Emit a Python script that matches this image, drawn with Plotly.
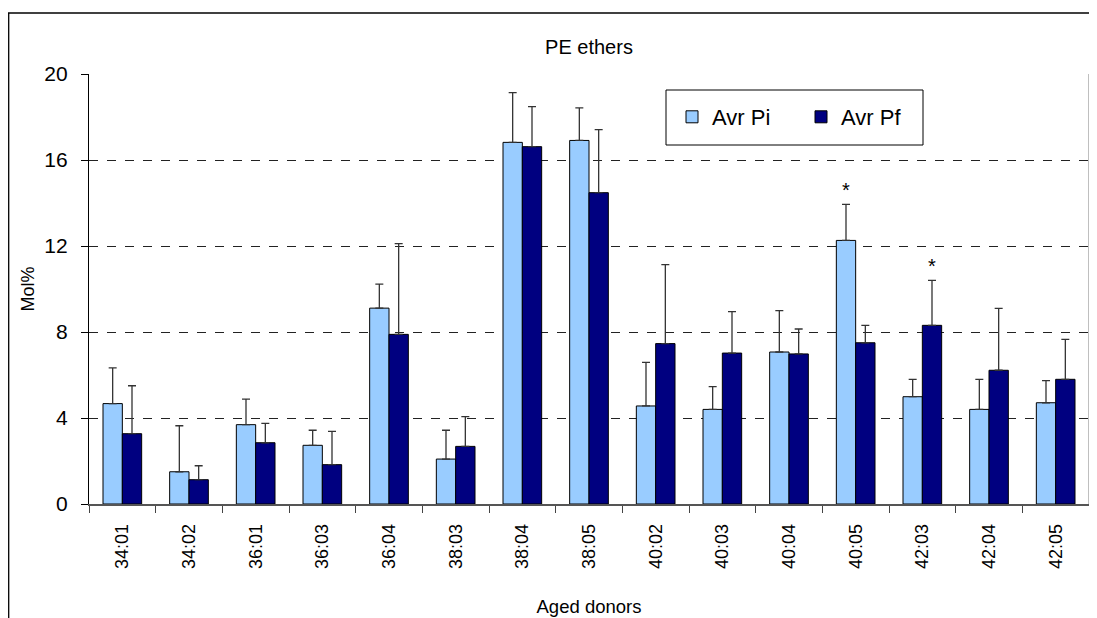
import plotly.graph_objects as go

categories = ["34:01", "34:02", "36:01", "36:03", "36:04", "38:03", "38:04", "38:05",
              "40:02", "40:03", "40:04", "40:05", "42:03", "42:04", "42:05"]
avr_pi = [4.67, 1.50, 3.69, 2.73, 9.11, 2.09, 16.82, 16.91, 4.56, 4.40, 7.07, 12.26, 4.99, 4.40, 4.71]
sd_pi = [1.66, 2.14, 1.19, 0.70, 1.12, 1.34, 2.31, 1.51, 2.03, 1.06, 1.92, 1.68, 0.81, 1.40, 1.03]
avr_pf = [3.27, 1.13, 2.85, 1.83, 7.89, 2.68, 16.62, 14.48, 7.46, 7.02, 6.98, 7.50, 8.31, 6.22, 5.80]
sd_pf = [2.23, 0.65, 0.90, 1.55, 4.22, 1.38, 1.86, 2.93, 3.67, 1.93, 1.16, 0.81, 2.09, 2.88, 1.86]
significant = [("40:05", "Pi"), ("42:03", "Pf")]
y_ticks = [0, 4, 8, 12, 16, 20]

FONT = "Liberation Sans, Arial, sans-serif"
# page has an 8px body margin: figure spans page x 8..1097, y 8..618
OFF = 8
W, H = 1097 - OFF, 618 - OFF
# plot area in page coords: x 89..1089, y 74..504
L, R, T, B = 89 - OFF, 1097 - 1089, 74 - OFF, 618 - 504

fig = go.Figure()
fig.add_trace(go.Bar(
    name="Avr Pi", x=categories, y=avr_pi,
    marker=dict(color="#99CCFF", line=dict(color="#000000", width=1)),
    error_y=dict(type="data", symmetric=False, array=sd_pi, arrayminus=[0] * len(sd_pi),
                 color="#333333", thickness=1.3, width=4),
))
fig.add_trace(go.Bar(
    name="Avr Pf", x=categories, y=avr_pf,
    marker=dict(color="#000080", line=dict(color="#000000", width=1)),
    error_y=dict(type="data", symmetric=False, array=sd_pf, arrayminus=[0] * len(sd_pf),
                 color="#333333", thickness=1.3, width=4),
))

annotations = []
for cat, ser in significant:
    i = categories.index(cat)
    if ser == "Pi":
        ytop = avr_pi[i] + sd_pi[i]
        shift = -9.7
    else:
        ytop = avr_pf[i] + sd_pf[i]
        shift = 9.7
    annotations.append(dict(x=cat, y=ytop + 0.65, text="*", showarrow=False, xshift=shift,
                            yanchor="middle", font=dict(size=20, color="black", family=FONT)))

def px_x(px):
    return (px - 89) / 1000.0

def px_y(py):
    return (504 - py) / 430.0

shapes = [
    dict(type="line", xref="paper", yref="paper", x0=1, x1=1, y0=0, y1=1,
         line=dict(color="#AAAAAA", width=1.5)),
    dict(type="line", xref="paper", yref="paper", x0=px_x(8.7), x1=px_x(8.7), y0=px_y(13), y1=px_y(640),
         line=dict(color="#000000", width=1.3)),
    dict(type="line", xref="paper", yref="paper", x0=px_x(8), x1=px_x(1100), y0=px_y(13), y1=px_y(13),
         line=dict(color="#000000", width=1.3)),
    dict(type="rect", xref="paper", yref="paper", x0=px_x(666), x1=px_x(923), y0=px_y(145), y1=px_y(90),
         line=dict(color="#000000", width=1), fillcolor="white", layer="below"),
]

fig.update_layout(
    width=W, height=H,
    margin=dict(l=L, r=R, t=T, b=B, autoexpand=False),
    paper_bgcolor="white", plot_bgcolor="white",
    barmode="group", bargap=0.42, bargroupgap=0,
    font=dict(family=FONT, size=16, color="black"),
    title=dict(text="PE ethers", x=px_x(589), xanchor="center", y=1 - (47 - OFF) / H, yanchor="middle",
               xref="paper", font=dict(size=20, family=FONT)),
    showlegend=True,
    legend=dict(orientation="h", x=px_x(672), y=px_y(96), xanchor="left", yanchor="top",
                bgcolor="rgba(0,0,0,0)", borderwidth=0, font=dict(size=22, family=FONT),
                entrywidth=84, entrywidthmode="pixels", traceorder="normal"),
    shapes=shapes,
    annotations=annotations,
)
fig.update_xaxes(
    type="category", tickangle=-90, ticks="outside", ticklen=7, tickcolor="#444444",
    tickson="boundaries", showline=True, linecolor="#555555", linewidth=1.5,
    tickfont=dict(size=18, family=FONT), ticklabelstandoff=11, automargin=False,
    title=dict(text="Aged donors", font=dict(size=18.5, family=FONT), standoff=32),
    showgrid=False, zeroline=False,
)
fig.update_yaxes(
    range=[0, 20], tickvals=y_ticks, ticks="outside", ticklen=7, tickcolor="#000000",
    showline=True, linecolor="#000000", linewidth=1.3, automargin=False,
    showgrid=True, gridcolor="#222222", gridwidth=1, griddash="dash",
    tickfont=dict(size=21, family=FONT), ticklabelstandoff=9,
    title=dict(text="Mol%", font=dict(size=18, family=FONT), standoff=4),
    zeroline=False,
)

fig.write_html("out.html")
